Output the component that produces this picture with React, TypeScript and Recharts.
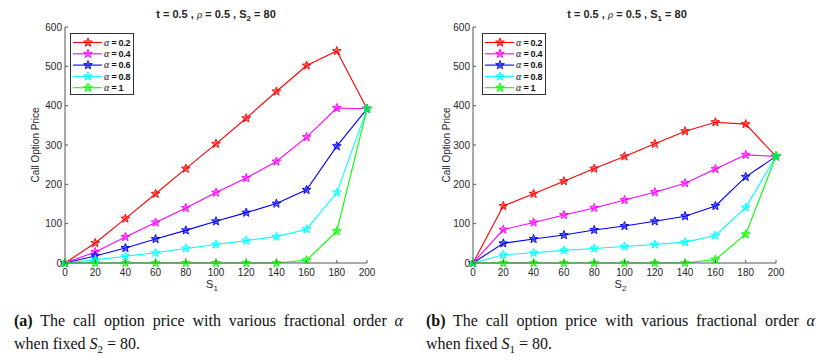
import React from 'react';
import { LineChart, Line, XAxis, YAxis, Legend } from 'recharts';

// underlying asset price on the x axis
const sValues = [0, 20, 40, 60, 80, 100, 120, 140, 160, 180, 200];
const xTicks = [0, 20, 40, 60, 80, 100, 120, 140, 160, 180, 200];
const yTicks = [0, 100, 200, 300, 400, 500, 600];
const alphaLabels = ['0.2', '0.4', '0.6', '0.8', '1'];

// (a) price vs S1, S2 fixed at 80
const priceS1Alpha02 = [0, 51, 113, 176, 240, 303, 368, 436, 502, 539, 392];
const priceS1Alpha04 = [0, 28, 66, 103, 140, 179, 216, 258, 320, 394, 392];
const priceS1Alpha06 = [0, 18, 38, 61, 83, 106, 128, 151, 186, 297, 392];
const priceS1Alpha08 = [0, 8, 17, 26, 37, 47, 57, 67, 86, 179, 392];
const priceS1Alpha1 = [0, 0, 0, 0, 0, 0, 0, 0, 7, 81, 392];

// (b) price vs S2, S1 fixed at 80
const priceS2Alpha02 = [0, 145, 176, 208, 240, 271, 303, 335, 358, 353, 271];
const priceS2Alpha04 = [0, 85, 103, 122, 140, 160, 180, 203, 239, 275, 271];
const priceS2Alpha06 = [0, 50, 61, 71, 84, 94, 106, 119, 145, 219, 271];
const priceS2Alpha08 = [0, 21, 26, 32, 37, 42, 47, 53, 70, 141, 271];
const priceS2Alpha1 = [0, 0, 0, 0, 0, 0, 0, 0, 9, 73, 271];

const colors = ['#ff0000', '#ff00ff', '#0000ff', '#00ffff', '#00ff00'];
const keys = ['a02', 'a04', 'a06', 'a08', 'a1'];

const buildRows = (series: number[][]) =>
  sValues.map((s, i) => {
    const row: Record<string, number> = { s };
    series.forEach((vals, j) => {
      row[keys[j]] = vals[i];
    });
    return row;
  });

const dataA = buildRows([priceS1Alpha02, priceS1Alpha04, priceS1Alpha06, priceS1Alpha08, priceS1Alpha1]);
const dataB = buildRows([priceS2Alpha02, priceS2Alpha04, priceS2Alpha06, priceS2Alpha08, priceS2Alpha1]);

const SANS = '"Liberation Sans", Arial, sans-serif';
const SERIF = '"Liberation Serif", "Times New Roman", serif';
const AXIS = '#555';
const TEXT = '#262626';

function starPoints(cx: number, cy: number, r: number) {
  const pts: string[] = [];
  for (let i = 0; i < 10; i++) {
    const rad = i % 2 === 0 ? r : r * 0.42;
    const a = -Math.PI / 2 + (i * Math.PI) / 5;
    pts.push(`${cx + rad * Math.cos(a)},${cy + rad * Math.sin(a)}`);
  }
  return pts.join(' ');
}

const Star = ({ cx, cy, color }: { cx: number; cy: number; color: string }) => (
  <polygon points={starPoints(cx, cy, 4.6)} fill={color} fillOpacity={0.55} stroke={color} strokeWidth={0.9} />
);

const BottomTick = (p: any) => (
  <g>
    <line x1={p.x} y1={p.y} x2={p.x} y2={p.y - 3} stroke={AXIS} />
    <text x={p.x} y={p.y + 13} textAnchor="middle" fontSize={10} fontFamily={SANS} fill={TEXT}>
      {p.payload.value}
    </text>
  </g>
);
const LeftTick = (p: any) => (
  <g>
    <line x1={p.x} y1={p.y} x2={p.x + 3} y2={p.y} stroke={AXIS} />
    <text x={p.x - 3} y={p.y} dy="0.35em" textAnchor="end" fontSize={10} fontFamily={SANS} fill={TEXT}>
      {p.payload.value}
    </text>
  </g>
);
const TopTick = (p: any) => <line x1={p.x} y1={p.y} x2={p.x} y2={p.y + 3} stroke={AXIS} />;
const RightTick = (p: any) => <line x1={p.x} y1={p.y} x2={p.x - 3} y2={p.y} stroke={AXIS} />;

const XLabel = ({ viewBox, sub }: any) => {
  const cx = viewBox.x + viewBox.width / 2;
  return (
    <text x={cx - 4} y={viewBox.y + 25} textAnchor="middle" fontSize={11} fontFamily={SANS} fill={TEXT}>
      S<tspan fontSize={8} dy={3}>{sub}</tspan>
    </text>
  );
};

const YLabel = ({ viewBox, offsetX }: any) => {
  const x = viewBox.x + offsetX;
  const y = viewBox.y + viewBox.height / 2;
  return (
    <text x={x} y={y} dy="0.35em" transform={`rotate(-90, ${x}, ${y})`} textAnchor="middle" fontSize={10} fontFamily={SANS} fill={TEXT}>
      Call Option Price
    </text>
  );
};

const LegendBox = () => (
  <svg width={64} height={62} style={{ display: 'block' }}>
    <rect x={0.5} y={0.5} width={63} height={61} fill="#fff" stroke="#333" />
    {alphaLabels.map((a, i) => {
      const y = 9.5 + i * 11.3;
      return (
        <g key={a}>
          <line x1={3} y1={y} x2={32} y2={y} stroke={colors[i]} strokeWidth={1.1} />
          <Star cx={18} cy={y} color={colors[i]} />
          <text x={34} y={y} dy="0.35em" fontSize={9} fill="#111">
            <tspan fontFamily={SERIF} fontStyle="italic" fontSize={10}>α</tspan>
            <tspan fontFamily={SANS} fontWeight="bold" letterSpacing={-0.3}> = {a}</tspan>
          </text>
        </g>
      );
    })}
  </svg>
);

function Panel({ data, sub, yWidth, right, legendLeft, labelX }: any) {
  return (
    <LineChart width={414} height={298} data={data} margin={{ top: 27, right, bottom: 0, left: 0 }}>
      <XAxis
        dataKey="s"
        type="number"
        domain={[0, 200]}
        ticks={xTicks}
        interval={0}
        height={35}
        tickSize={0}
        tickMargin={0}
        stroke={AXIS}
        tick={<BottomTick />}
        label={<XLabel sub={sub} />}
      />
      <XAxis xAxisId="top" orientation="top" dataKey="s" type="number" domain={[0, 200]} ticks={xTicks} interval={0} height={0} tickSize={0} tickMargin={0} stroke={AXIS} tick={<TopTick />} />
      <YAxis
        type="number"
        domain={[0, 600]}
        ticks={yTicks}
        interval={0}
        width={yWidth}
        tickSize={0}
        tickMargin={0}
        stroke={AXIS}
        tick={<LeftTick />}
        label={<YLabel offsetX={labelX} />}
      />
      <YAxis yAxisId="right" orientation="right" type="number" domain={[0, 600]} ticks={yTicks} interval={0} width={0} tickSize={0} tickMargin={0} stroke={AXIS} tick={<RightTick />} />
      <Legend
        layout="vertical"
        align="center"
        verticalAlign="middle"
        content={() => <LegendBox />}
        wrapperStyle={{ top: 33, left: legendLeft, width: 64, height: 62 }}
      />
      {keys.map((k, i) => (
        <Line
          key={k}
          dataKey={k}
          stroke={colors[i]}
          strokeWidth={1.1}
          isAnimationActive={false}
          dot={(p: any) => <Star key={`${k}-${p.index}`} cx={p.cx} cy={p.cy} color={colors[i]} />}
          activeDot={false}
        />
      ))}
    </LineChart>
  );
}

const Title = ({ sub, left }: { sub: string; left: number }) => (
  <div
    style={{
      position: 'absolute',
      left,
      top: 8,
      width: 200,
      textAlign: 'center',
      fontFamily: SANS,
      fontWeight: 'bold',
      fontSize: 11,
      lineHeight: '13px',
      color: TEXT,
      whiteSpace: 'nowrap',
    }}
  >
    t = 0.5 , <span style={{ fontFamily: SERIF, fontStyle: 'italic', fontWeight: 'normal' }}>ρ</span> = 0.5 , S
    <sub style={{ fontSize: 8 }}>{sub}</sub> = 80
  </div>
);

const Caption = ({ tag, sub, left }: { tag: string; sub: string; left: number }) => (
  <div style={{ position: 'absolute', left, top: 309, fontFamily: SERIF, fontSize: 16, lineHeight: '23px', color: '#111' }}>
    <div style={{ width: 389, textAlign: 'justify', textAlignLast: 'justify', whiteSpace: 'nowrap' as const }}>
      <b>({tag})</b> The call option price with various fractional order <i>α</i>
    </div>
    <div>
      when fixed <i>S</i>
      <sub style={{ fontSize: 11 }}>{sub}</sub> = 80.
    </div>
  </div>
);

export default function App() {
  return (
    <div style={{ position: 'absolute', left: 0, top: 0, width: 828, height: 360, background: '#fff', overflow: 'hidden' }}>
      <div style={{ position: 'absolute', left: 0, top: 0 }}>
        <Panel data={dataA} sub="1" yWidth={65} right={47} legendLeft={70} labelX={35} />
      </div>
      <div style={{ position: 'absolute', left: 414, top: 0 }}>
        <Panel data={dataB} sub="2" yWidth={59} right={52} legendLeft={68} labelX={32} />
      </div>
      <Title sub="2" left={116} />
      <Title sub="1" left={527} />
      <Caption tag="a" sub="2" left={14} />
      <Caption tag="b" sub="1" left={426} />
    </div>
  );
}
